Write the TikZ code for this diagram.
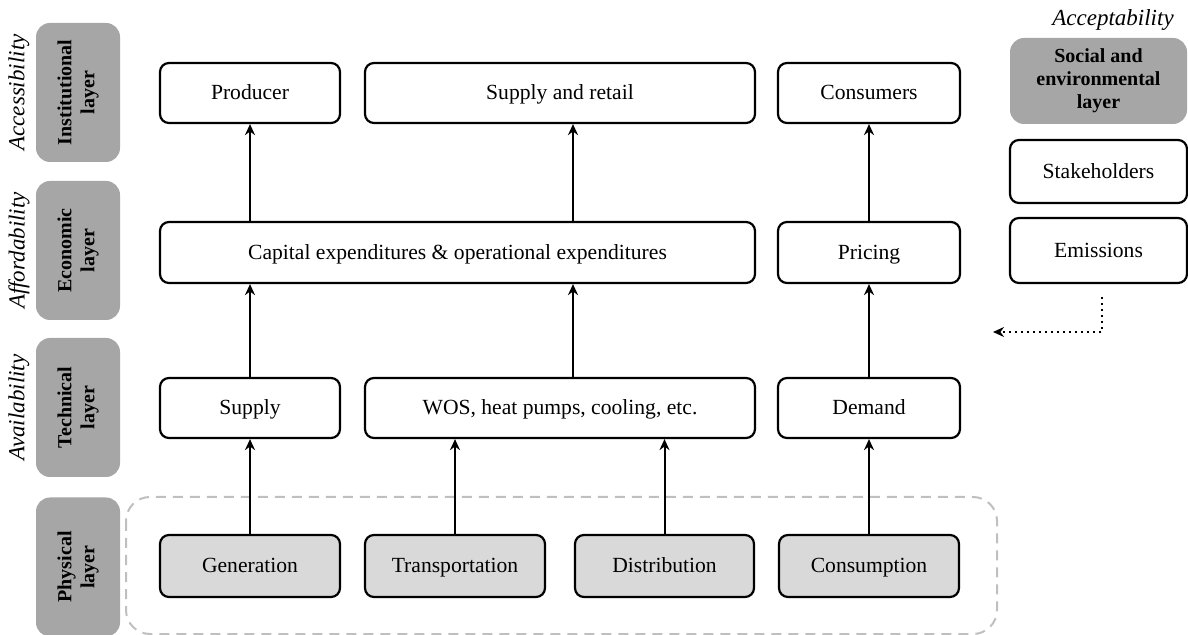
\documentclass[tikz,border=0pt]{standalone}
\usepackage{fontspec}
\setmainfont{Liberation Serif}
\usetikzlibrary{arrows.meta}
\definecolor{layergray}{HTML}{A6A6A6}
\definecolor{physgray}{HTML}{D9D9D9}
\definecolor{dashgray}{HTML}{BFBFBF}
\tikzset{
  box/.style={draw=black, line width=1.1pt, rounded corners=4.5pt, fill=white,
    minimum height=30pt, inner sep=0pt, text height=8.4pt, text depth=1.8pt,
    font=\fontsize{10.8}{13}\selectfont},
  physbox/.style={box, fill=physgray, minimum height=31pt},
  layerbox/.style={fill=layergray, rounded corners=7pt, minimum width=42pt,
    minimum height=69.5pt, inner sep=0pt},
  layertext/.style={rotate=90, align=center, font=\fontsize{10}{11.5}\selectfont\bfseries},
  aspect/.style={font=\fontsize{11.5}{13}\selectfont\itshape},
  uparrow/.style={line width=1pt, -{Stealth[length=5.5pt,width=5pt]}},
}
\begin{document}
\begin{tikzpicture}[x=0.5pt, y=-0.5pt]
\useasboundingbox (0,0) rectangle (1188,635);

% dashed frame around the physical layer
\draw[dashgray, line width=1pt, dash pattern=on 5pt off 3.5pt, rounded corners=12pt]
  (126,497) rectangle (997,634);

% layer labels on the left
\node[layerbox] (inst) at (78,92.5) {};
\node[layertext] at (inst) {Institutional\\layer};
\node[layerbox] (econ) at (78,250.5) {};
\node[layertext] at (econ) {Economic\\layer};
\node[layerbox] (tech) at (78,407.5) {};
\node[layertext] at (tech) {Technical\\layer};
\node[layerbox] (phys) at (78,567) {};
\node[layertext] at (phys) {Physical\\layer};

\node[aspect, rotate=90] (acc) at (19,92.5) {Accessibility};
\node[aspect, rotate=90] (aff) at (19,250.5) {Affordability};
\node[aspect, rotate=90] (ava) at (19,407.5) {Availability};

% institutional row
\node[box, minimum width=90pt] (prod) at (250,93) {Producer};
\node[box, minimum width=195pt] (retail) at (560,93) {Supply and retail};
\node[box, minimum width=91pt] (cons) at (869,93) {Consumers};

% economic row
\node[box, minimum width=297.5pt, minimum height=30.5pt] (capex) at (457.5,252.5)
  {Capital expenditures \& operational expenditures};
\node[box, minimum width=91pt, minimum height=30.5pt] (price) at (869,252.5) {Pricing};

% technical row
\node[box, minimum width=90pt] (supply) at (250,408) {Supply};
\node[box, minimum width=195pt] (wos) at (560,408) {WOS, heat pumps, cooling, etc.};
\node[box, minimum width=91pt] (demand) at (869,408) {Demand};

% physical row
\node[physbox, minimum width=90pt] (gen) at (250,566) {Generation};
\node[physbox, minimum width=90pt] (trans) at (455,566) {Transportation};
\node[physbox, minimum width=89.5pt] (dist) at (664.5,566) {Distribution};
\node[physbox, minimum width=90pt] (consm) at (869,566) {Consumption};

% vertical links between layers
\coordinate (mid) at (573,0);
\draw[uparrow] (gen.north) -- (supply.south);
\draw[uparrow] (trans.north) -- (trans.north |- wos.south);
\draw[uparrow] (dist.north) -- (dist.north |- wos.south);
\draw[uparrow] (consm.north) -- (demand.south);

\draw[uparrow] (supply.north) -- (supply.north |- capex.south);
\draw[uparrow] (mid |- wos.north) -- (mid |- capex.south);
\draw[uparrow] (demand.north) -- (price.south);

\draw[uparrow] (prod.south |- capex.north) -- (prod.south);
\draw[uparrow] (mid |- capex.north) -- (mid |- retail.south);
\draw[uparrow] (price.north) -- (cons.south);

% social and environmental column
\node[aspect] (acpt) at (1113,20) {Acceptability};
\node[layerbox, minimum width=88.5pt, minimum height=43pt,
  align=center, font=\fontsize{10}{11.5}\selectfont\bfseries] (soc) at (1098.5,81)
  {Social and\\environmental\\layer};
\node[box, minimum width=88.5pt, minimum height=31.5pt] (stake) at (1098.5,171.5) {Stakeholders};
\node[box, minimum width=88.5pt, minimum height=32.5pt] (emis) at (1098.5,250.5) {Emissions};

\coordinate (dA) at (1102,297);
\coordinate (dB) at (993,332);
\draw[line width=1pt, dotted, -{Stealth[length=5.5pt,width=5pt]}] (dA) |- (dB);
\end{tikzpicture}
\end{document}
